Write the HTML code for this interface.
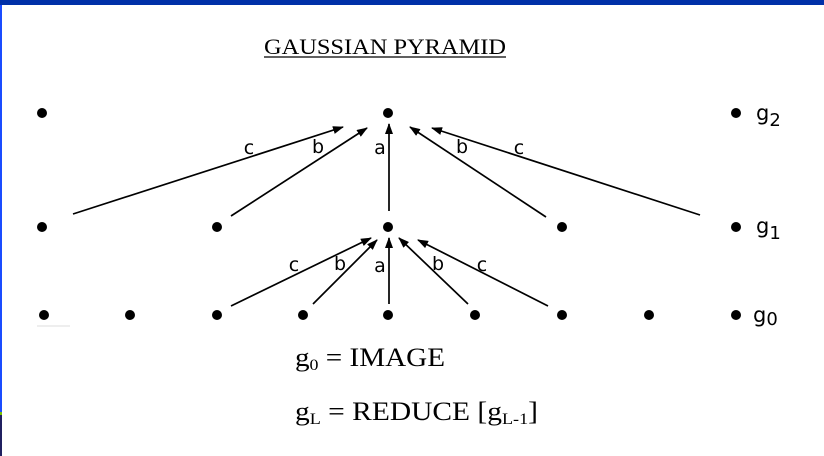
<!DOCTYPE html>
<html><head><meta charset="utf-8"><style>
html,body{margin:0;padding:0;background:#fff;}
svg{display:block;}
</style></head><body>
<svg width="824" height="456" viewBox="0 0 824 456">
<defs><marker id="ah" markerWidth="11" markerHeight="8" refX="10" refY="4" orient="auto" markerUnits="userSpaceOnUse"><path d="M0,0 L11,4 L0,8 Z" fill="#000"/></marker></defs>
<rect x="0" y="0" width="824" height="5" fill="#0030a8"/>
<rect x="0" y="5" width="2" height="407" fill="#1a4cff"/>
<rect x="0" y="412" width="2" height="3" fill="#7ac000"/>
<rect x="0" y="415" width="2" height="41" fill="#202060"/>
<text x="385" y="54" font-family="Liberation Serif, serif" font-size="22" text-anchor="middle" textLength="242" lengthAdjust="spacingAndGlyphs">GAUSSIAN PYRAMID</text>
<line x1="264" y1="57" x2="506" y2="57" stroke="#000" stroke-width="1.2"/>
<g id="dots"></g>
<g id="arrows" stroke="#000" stroke-width="1.7" fill="none"></g>
<g id="labels" font-family="DejaVu Sans, sans-serif" font-size="19" text-anchor="middle"></g>
<g font-family="DejaVu Sans, sans-serif" font-size="21">
<text x="756" y="120">g<tspan font-size="18" dy="6">2</tspan></text>
<text x="756" y="233">g<tspan font-size="18" dy="6">1</tspan></text>
<text x="753" y="322">g<tspan font-size="18" dy="3">0</tspan></text>
</g>
<line x1="37" y1="326" x2="70" y2="326" stroke="#ddd" stroke-width="1"/>
<text x="295" y="366" font-family="Liberation Serif, serif" font-size="26" textLength="150" lengthAdjust="spacingAndGlyphs">g<tspan font-size="16" dy="4">0</tspan><tspan dy="-4"> = IMAGE</tspan></text>
<text x="295" y="420" font-family="Liberation Serif, serif" font-size="26" textLength="243" lengthAdjust="spacingAndGlyphs">g<tspan font-size="16" dy="4">L</tspan><tspan dy="-4"> = REDUCE [g</tspan><tspan font-size="16" dy="4">L-1</tspan><tspan dy="-4">]</tspan></text>
</svg>
<script>
const rowY=[315,227,113];
const g0X=[44,130,217,303,388,475,562,649,736];
const g1X=[42,217,388,562,736];
const g2X=[42,388,736];
// arrows: [x1,y1,x2,y2] reading from picture
const arrowsTop=[[73,214,343,127],[231,216,367,128],[389,211,389,124],[546,217,410,127],[700,215,432,128]];
const arrowsLow=[[231,306,371,238],[313,304,377,240],[389,304,389,238],[468,304,399,238],[548,306,418,240]];
const labelsTop=[["c",249,154],["b",318,153],["a",380,154],["b",462,153],["c",519,154]];
const labelsLow=[["c",294,271],["b",340,270],["a",380,272],["b",438,270],["c",482,271]];
const NS="http://www.w3.org/2000/svg";
const dots=document.getElementById('dots');
[[g0X,rowY[0]],[g1X,rowY[1]],[g2X,rowY[2]]].forEach(([xs,y],lvl)=>{xs.forEach(x=>{
 const c=document.createElementNS(NS,'circle');
 c.setAttribute('cx',x);c.setAttribute('cy',y);c.setAttribute('r',5);c.setAttribute('fill','#000');
 
 
 dots.appendChild(c);});});
const ar=document.getElementById('arrows');
arrowsTop.concat(arrowsLow).forEach(a=>{
 const l=document.createElementNS(NS,'line');
 l.setAttribute('x1',a[0]);l.setAttribute('y1',a[1]);l.setAttribute('x2',a[2]);l.setAttribute('y2',a[3]);
 l.setAttribute('marker-end','url(#ah)');
 
 
 ar.appendChild(l);});
const lb=document.getElementById('labels');
labelsTop.concat(labelsLow).forEach(t=>{
 const e=document.createElementNS(NS,'text');
 e.setAttribute('x',t[1]);e.setAttribute('y',t[2]);e.textContent=t[0];
 
 
 lb.appendChild(e);});
</script>
</body></html>
